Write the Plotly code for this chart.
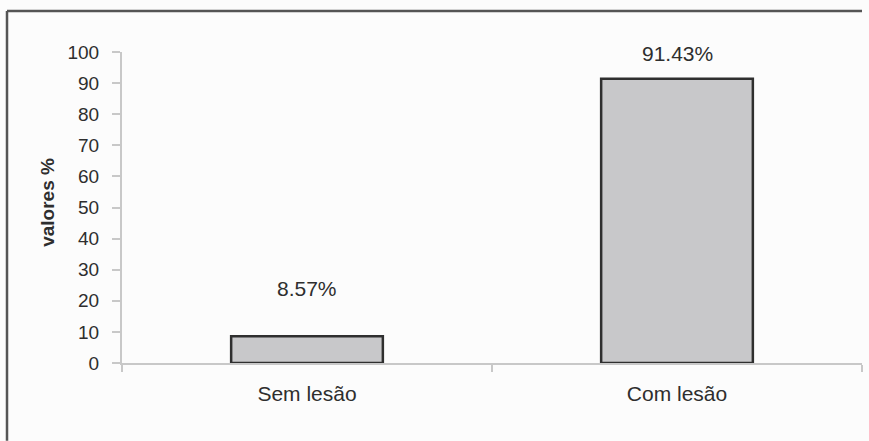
import plotly.graph_objects as go

categories = ["Sem lesão", "Com lesão"]
values = [8.57, 91.43]
value_labels = ["8.57%", "91.43%"]
label_heights = [24.0, 99.6]   # y (in %) where the value labels sit
y_ticks = [0, 10, 20, 30, 40, 50, 60, 70, 80, 90, 100]

FONT = "Liberation Sans, Arial, sans-serif"
TXT = "#2e2e2e"
AX = "#c8c8c8"

fig = go.Figure()
fig.add_trace(go.Bar(
    x=categories, y=values, width=0.41,
    marker=dict(color="#c8c8ca", line=dict(color="#2f2f2f", width=2.5)),
    hoverinfo="skip", showlegend=False,
))

for c, t, h in zip(categories, value_labels, label_heights):
    fig.add_annotation(x=c, y=h, text=t, showarrow=False, yanchor="middle",
                       font=dict(family=FONT, size=21, color=TXT))

fig.add_annotation(xref="paper", yref="paper", x=-0.1, y=0.515, text="<b>valores %</b>",
                   textangle=-90, showarrow=False, xanchor="center", yanchor="middle",
                   font=dict(family=FONT, size=19, color=TXT))

# outer frame (only top and left edges fall inside the picture)
fig.add_shape(type="line", xref="paper", yref="paper", x0=-0.1554, x1=1.0, y0=1.1318, y1=1.1318,
              line=dict(color="#555555", width=2.5), layer="above")
fig.add_shape(type="line", xref="paper", yref="paper", x0=-0.1554, x1=-0.1554, y0=-0.25, y1=1.1318,
              line=dict(color="#555555", width=2.5), layer="above")

fig.update_layout(
    width=869, height=441,
    margin=dict(l=122, r=7, t=52, b=78),
    paper_bgcolor="#fcfcfc", plot_bgcolor="#fcfcfc",
    font=dict(family=FONT, size=18, color=TXT),
    xaxis=dict(type="category", tickson="boundaries", ticks="outside", ticklen=7, tickwidth=2,
               tickcolor=AX, showline=True, linecolor=AX, linewidth=2, showgrid=False,
               ticklabelstandoff=11, tickfont=dict(size=21, color=TXT), fixedrange=True),
    yaxis=dict(range=[0, 100], tickvals=y_ticks, ticks="outside", ticklen=8, tickwidth=2,
               tickcolor=AX, showline=True, linecolor=AX, linewidth=2, showgrid=False,
               zeroline=False, ticklabelstandoff=9, tickfont=dict(size=19, color=TXT),
               fixedrange=True),
)

fig.write_html("out.html", config={"displayModeBar": False})
